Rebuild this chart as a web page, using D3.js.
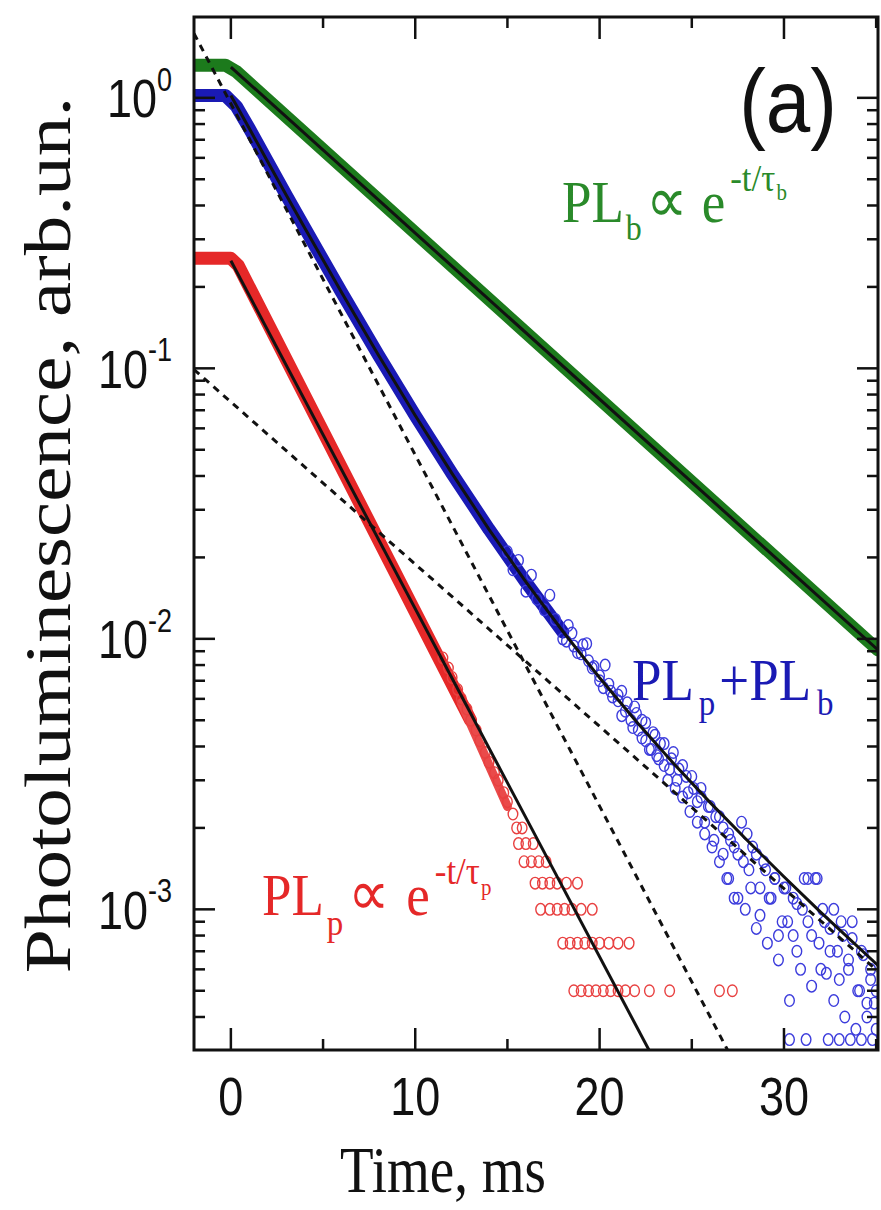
<!DOCTYPE html>
<html lang="en">
<head>
<meta charset="UTF-8">
<title>Photoluminescence decay (a)</title>
<script src="https://d3js.org/d3.v7.min.js"></script>
<style>
  body { margin: 0; background: #fff; }
  .tick-label { font-family: "Liberation Sans", Arial, sans-serif; fill: #111; }
  .serif { font-family: "Liberation Serif", "Times New Roman", serif; }
</style>
</head>
<body>
<svg id="chart" width="881" height="1210"></svg>
<script>
// ---- data (time in ms, PL in arb. units) ----
const xDomain = [-2, 35.1];
const yDomain = [3.02e-4, 1.99];
const xTickLabels = [0, 10, 20, 30];
const yTickValues = [1, 0.1, 0.01, 0.001];
const yTickExps = ["0", "-1", "-2", "-3"];

// dense measured bands (markers overlap into a continuous band)
const greenBand = [[-2, 1.32], [-0.3, 1.32], [0.3, 1.25], [35.1, 0.0091]];
const blueBand = [[-2, 1.02], [-0.3, 1.02], [0.3, 0.93], [1, 0.77], [2, 0.58], [3, 0.437],
  [4, 0.331], [6, 0.191], [8, 0.112], [10, 0.0669], [12, 0.0408], [14, 0.0254],
  [16, 0.0162], [18, 0.0106]];
const redBand = [[-2, 0.255], [0, 0.255], [0.4, 0.24], [13, 0.0050]];
const redBandTail = [[12.5, 0.0058], [15.0, 0.0024]];

// fits
const greenFit = [[0, 1.30], [35.1, 0.0091]];
const blueFit = [[0, 1.02], [1, 0.770], [2, 0.580], [3, 0.4376], [4, 0.331], [6, 0.1913],
  [8, 0.1121], [10, 0.0669], [12, 0.0408], [14, 0.0254], [16, 0.01625], [18, 0.01067],
  [20, 0.00718], [22, 0.00494], [24, 0.00347], [26, 0.00248], [28, 0.0018],
  [30, 0.00132], [32, 0.000975], [35.1, 0.00062]];
const redFit = [[0, 0.25], [22.7, 3.0e-4]];
const fastComp = [[-2, 1.73], [28, 2.2e-4]];
const slowComp = [[-2, 0.099], [35.1, 5.9e-4]];

// scattered markers at low signal
const blueScatter = [
  [15.0, 0.021], [15.3, 0.018], [15.6, 0.0195], [16.0, 0.0150], [16.3, 0.0172], [16.6, 0.0140],
  [17.0, 0.0128], [17.3, 0.0145], [17.6, 0.0118], [18.0, 0.0100], [18.3, 0.0112], [18.6, 0.0094],
  [19.0, 0.0088], [19.3, 0.0096], [19.6, 0.0078], [20.0, 0.0070], [20.3, 0.0080], [20.6, 0.0064],
  [21.0, 0.0062], [21.2, 0.0052], [21.5, 0.0058], [21.8, 0.0047], [22.0, 0.0053], [22.3, 0.0043],
  [22.5, 0.0049], [22.8, 0.0039], [23.0, 0.0044], [23.2, 0.0036], [23.5, 0.0041], [23.8, 0.0033],
  [24.0, 0.0038], [24.2, 0.0030], [24.5, 0.0034], [24.8, 0.0027], [25.0, 0.0031], [25.3, 0.0025],
  [25.5, 0.0028], [25.7, 0.0021], [26.0, 0.0024], [26.2, 0.0018], [26.5, 0.0022], [26.7, 0.0016],
  [27.0, 0.0019], [27.0, 0.0013], [27.3, 0.0017], [27.5, 0.0011], [27.8, 0.0015], [28.0, 0.0019],
  [28.2, 0.0012], [28.5, 0.0016], [28.7, 0.00095], [29.0, 0.0014], [29.2, 0.0011], [29.5, 0.0013],
  [29.7, 0.0008], [30.0, 0.0012], [30.2, 0.0009], [30.5, 0.0011], [30.7, 0.0007], [31.0, 0.0010],
  [31.3, 0.0013], [31.5, 0.0008], [31.8, 0.0013], [32.0, 0.0006], [32.2, 0.0009], [32.5, 0.0007],
  [32.7, 0.0010], [33.0, 0.00055], [33.2, 0.0008], [33.5, 0.00065], [33.7, 0.0009], [34.0, 0.0005],
  [34.2, 0.0007], [34.5, 0.00045], [34.7, 0.0006], [35.0, 0.0005],
  [18.2, 0.0098], [18.5, 0.0105], [18.8, 0.0089], [19.1, 0.0095], [19.4, 0.0083], [19.7, 0.0079],
  [20.0, 0.0073], [20.2, 0.0066], [20.5, 0.0068], [20.7, 0.0061], [21.0, 0.0059], [21.2, 0.0064],
  [21.4, 0.0054], [21.7, 0.0050], [21.9, 0.0056], [22.1, 0.0046], [22.3, 0.0050], [22.5, 0.0042],
  [22.7, 0.0039], [22.9, 0.0045], [23.1, 0.0037], [23.3, 0.0041], [23.5, 0.0034], [23.7, 0.0030],
  [23.9, 0.0036], [24.1, 0.0028], [24.3, 0.0033], [24.5, 0.0026], [24.7, 0.0031], [24.9, 0.0023],
  [25.1, 0.0028], [25.3, 0.0021], [25.5, 0.0026], [25.7, 0.0019], [25.9, 0.0024], [26.1, 0.0017],
  [26.3, 0.0022], [26.5, 0.0015], [26.7, 0.0020], [26.9, 0.0013], [27.1, 0.0018], [27.3, 0.0011],
  [27.5, 0.0016], [27.7, 0.0021], [27.9, 0.0010], [28.1, 0.0014], [28.3, 0.0017], [28.5, 0.00085],
  [28.7, 0.0012], [28.9, 0.0015], [29.1, 0.00075], [29.3, 0.0011], [29.5, 0.0013], [29.7, 0.00065],
  [29.9, 0.0009], [30.1, 0.0012], [30.3, 0.00046], [30.5, 0.0008], [30.7, 0.00105], [30.9, 0.0006],
  [31.1, 0.0013], [31.3, 0.0009], [31.5, 0.00052], [31.7, 0.0013], [31.9, 0.00075], [32.1, 0.0010],
  [32.3, 0.00058], [32.5, 0.00085], [32.7, 0.00046], [32.9, 0.0007], [33.1, 0.0009], [33.3, 0.0004],
  [33.5, 0.0006], [33.7, 0.00078], [33.9, 0.00036], [34.1, 0.0005], [34.3, 0.00068], [34.5, 0.0004],
  [34.7, 0.00055], [34.9, 0.00045], [35.0, 0.00036],
  [30.3, 0.00033], [31.2, 0.00033], [32.4, 0.00033], [33.0, 0.00033], [33.6, 0.00033],
  [34.2, 0.00033], [34.8, 0.00033]
];
const redScatter = [
  [11.5, 0.0085], [11.8, 0.0078], [12.0, 0.0072], [12.3, 0.0065], [12.5, 0.0060], [12.8, 0.0055],
  [13.0, 0.0050], [13.3, 0.0046], [13.5, 0.0042], [13.8, 0.0038], [14.0, 0.0035], [14.3, 0.0032],
  [14.5, 0.0030], [14.8, 0.0027], [15.0, 0.0025], [15.3, 0.00225], [15.5, 0.0020], [15.8, 0.0020],
  [15.6, 0.00175], [16.0, 0.00175], [16.4, 0.00175],
  [15.9, 0.0015], [16.3, 0.0015], [16.7, 0.0015], [17.1, 0.0015],
  [16.5, 0.00125], [16.9, 0.00125], [17.3, 0.00125], [17.7, 0.00125], [18.2, 0.00125], [18.8, 0.00125],
  [16.8, 0.001], [17.3, 0.001], [17.7, 0.001], [18.1, 0.001], [18.5, 0.001], [19.0, 0.001], [19.6, 0.001],
  [18.0, 0.00075], [18.4, 0.00075], [18.8, 0.00075], [19.2, 0.00075], [19.6, 0.00075], [20.0, 0.00075],
  [20.5, 0.00075], [21.0, 0.00075], [21.6, 0.00075],
  [18.6, 0.0005], [19.0, 0.0005], [19.4, 0.0005], [19.8, 0.0005], [20.2, 0.0005], [20.6, 0.0005],
  [21.0, 0.0005], [21.4, 0.0005], [21.9, 0.0005], [22.7, 0.0005], [23.8, 0.0005], [26.5, 0.0005],
  [27.2, 0.0005]
];

// ---- layout ----
const svg = d3.select("#chart");
const margin = { top: 17, right: 3, bottom: 160, left: 194 };
const width = 881 - margin.left - margin.right;
const height = 1210 - margin.top - margin.bottom;
const stretch = 1.2; // glyphs in the original are taller than wide

const x = d3.scaleLinear().domain(xDomain).range([margin.left, margin.left + width]);
const y = d3.scaleLog().domain(yDomain).range([margin.top + height, margin.top]);

const green = "#1c7a1c", blue = "#1a1ab4", red = "#e52828";

svg.append("defs").append("clipPath").attr("id", "plot-clip")
  .append("rect")
  .attr("x", margin.left).attr("y", margin.top)
  .attr("width", width).attr("height", height);

const plot = svg.append("g").attr("clip-path", "url(#plot-clip)");
const line = d3.line().x(d => x(d[0])).y(d => y(d[1]));

// bands
function band(data, color, w) {
  plot.append("path").datum(data)
    .attr("fill", "none").attr("stroke", color)
    .attr("stroke-width", w).attr("stroke-linejoin", "round").attr("stroke-linecap", "round")
    .attr("d", line);
}
band(greenBand, green, 13);
band(redBand, red, 13);
band(redBandTail, "#ea4a4a", 9);
band(blueBand, blue, 13);

// scattered markers
function markers(data, color) {
  plot.append("g").selectAll("ellipse").data(data).join("ellipse")
    .attr("cx", d => x(d[0])).attr("cy", d => y(d[1]))
    .attr("rx", 4.8).attr("ry", 5.8)
    .attr("fill", "none").attr("stroke", color).attr("stroke-width", 1.4);
}
markers(redScatter, "#e84040");
markers(blueScatter, "#3c3cdc");

// component lines (dashed) and fits
[fastComp, slowComp].forEach(d => {
  plot.append("path").datum(d)
    .attr("fill", "none").attr("stroke", "#111")
    .attr("stroke-width", 3).attr("stroke-dasharray", "7,6")
    .attr("d", line);
});
[greenFit, blueFit, redFit].forEach(d => {
  plot.append("path").datum(d)
    .attr("fill", "none").attr("stroke", "#111")
    .attr("stroke-width", 3)
    .attr("d", line);
});

// ---- axes: frame with inward ticks on all sides ----
const axisG = svg.append("g").attr("stroke", "#111");
axisG.append("rect")
  .attr("x", margin.left).attr("y", margin.top)
  .attr("width", width).attr("height", height)
  .attr("fill", "none").attr("stroke-width", 3);

const xt = d3.range(0, 36, 5);
xt.forEach(t => {
  const len = t % 10 === 0 ? 22 : 11;
  axisG.append("line").attr("x1", x(t)).attr("x2", x(t))
    .attr("y1", margin.top + height).attr("y2", margin.top + height - len).attr("stroke-width", 2.5);
  axisG.append("line").attr("x1", x(t)).attr("x2", x(t))
    .attr("y1", margin.top).attr("y2", margin.top + len).attr("stroke-width", 2.5);
});

const yt = y.ticks().filter(v => v >= yDomain[0] && v <= yDomain[1]);
yt.forEach(v => {
  const major = Math.abs(Math.log10(v) - Math.round(Math.log10(v))) < 1e-9;
  const len = major ? 21 : 11;
  axisG.append("line").attr("x1", margin.left).attr("x2", margin.left + len)
    .attr("y1", y(v)).attr("y2", y(v)).attr("stroke-width", 2.5);
  axisG.append("line").attr("x1", margin.left + width).attr("x2", margin.left + width - len)
    .attr("y1", y(v)).attr("y2", y(v)).attr("stroke-width", 2.5);
});

// tick labels
xTickLabels.forEach(t => {
  svg.append("text").attr("class", "tick-label")
    .attr("transform", `translate(${x(t)},1115) scale(1,${stretch})`)
    .attr("text-anchor", "middle").attr("font-size", 45)
    .text(t);
});
yTickValues.forEach((v, i) => {
  const tx = svg.append("text").attr("class", "tick-label")
    .attr("transform", `translate(172,${y(v)}) scale(1,${stretch})`)
    .attr("text-anchor", "end").attr("font-size", 45).attr("y", 16);
  tx.append("tspan").text("10");
  tx.append("tspan").attr("font-size", 27).attr("dy", -22).text(yTickExps[i]);
});

// axis titles
svg.append("text").attr("class", "serif")
  .attr("transform", `translate(443,1192) scale(1,${stretch})`)
  .attr("text-anchor", "middle").attr("font-size", 55).attr("fill", "#111")
  .text("Time, ms");
svg.append("text").attr("class", "serif")
  .attr("transform", `translate(70,535) rotate(-90) scale(1.22,1)`)
  .attr("text-anchor", "middle").attr("font-size", 65).attr("fill", "#111")
  .text("Photoluminescence, arb.un.");

// panel label
svg.append("text").attr("class", "tick-label")
  .attr("transform", `translate(788,132) scale(1,1.1)`)
  .attr("text-anchor", "middle").attr("font-size", 80)
  .text("(a)");

// annotations with sub/superscripts; offsets relative to baseline
function label(px, py, color, parts) {
  const t = svg.append("text").attr("class", "serif")
    .attr("transform", `translate(${px},${py}) scale(1,1.1)`)
    .attr("fill", color);
  let cur = 0;
  parts.forEach(p => {
    const off = p.off || 0;
    t.append("tspan").attr("font-size", p.size || 53)
      .attr("dy", off - cur).attr("dx", p.dx || 0).text(p.s);
    cur = off;
  });
}
label(562, 222, "#2a8a2a", [
  { s: "PL" }, { s: "b", size: 32, off: 16, dx: 2 }, { s: "\u221D", size: 58, dx: 4 },
  { s: "e", dx: 14 }, { s: "-t/\u03C4", size: 35, off: -28, dx: 5 }, { s: "b", size: 21, off: -20, dx: 1 }
]);
label(632, 700, blue, [
  { s: "PL" }, { s: "p", size: 33, off: 14, dx: 5 }, { s: "+PL", dx: 4 },
  { s: "b", size: 33, off: 14, dx: 6 }
]);
label(262, 915, red, [
  { s: "PL" }, { s: "p", size: 33, off: 18, dx: 3 }, { s: "\u221D", size: 58, dx: 5 },
  { s: "e", dx: 16 }, { s: "-t/\u03C4", size: 35, off: -28, dx: 5 }, { s: "p", size: 21, off: -18, dx: 1 }
]);
</script>
</body>
</html>
